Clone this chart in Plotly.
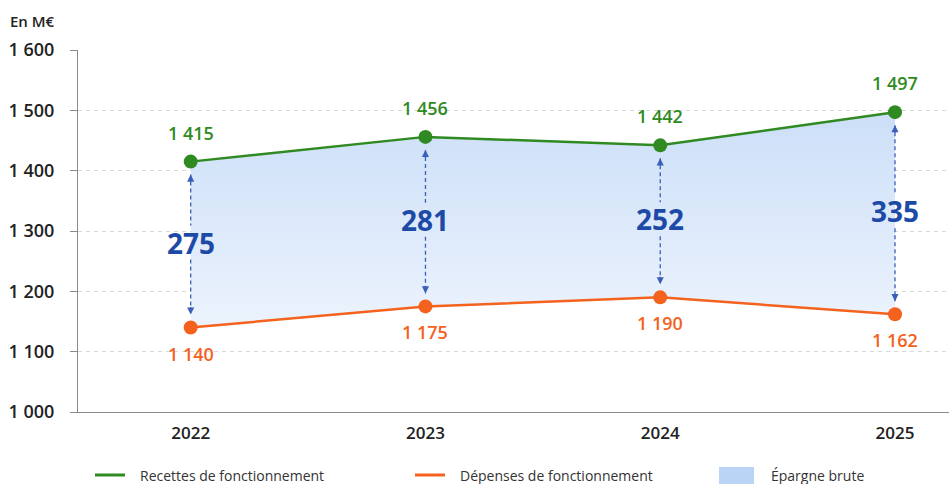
import plotly.graph_objects as go

years = ["2022", "2023", "2024", "2025"]
recettes = [1415, 1456, 1442, 1497]
depenses = [1140, 1175, 1190, 1162]
epargne = [275, 281, 252, 335]
y_ticks = [1000, 1100, 1200, 1300, 1400, 1500, 1600]
y_tick_labels = ["1 000", "1 100", "1 200", "1 300", "1 400", "1 500", "1 600"]
legend_names = ["Recettes de fonctionnement", "Dépenses de fonctionnement", "Épargne brute"]

GREEN = "#2f8a22"
ORANGE = "#f4621e"
BLUE_TXT = "#1d4aa6"
BLUE_ARR = "#3a5fb8"
LEG_BLUE = "rgb(186,212,246)"
FONT = "Open Sans"

W, H = 949, 484
ML, MR, MT, MB = 78, 0, 50, 72
PW, PH = W - ML - MR, H - MT - MB


def px_x(p):
    return (p - ML) / PW


def px_y(p):
    return (H - MB - p) / PH


def fmt(v):
    return f"{v:,}".replace(",", " ")


xs = list(range(len(years)))
fig = go.Figure()

# fill area (épargne brute)
fig.add_trace(go.Scatter(x=xs, y=depenses, mode="lines", line=dict(width=0),
                         showlegend=False, hoverinfo="skip"))
fig.add_trace(go.Scatter(x=xs, y=recettes, mode="lines", line=dict(width=0),
                         fill="tonexty", fillcolor="rgba(190,214,246,0.75)",
                         fillgradient=dict(type="vertical",
                                           colorscale=[[0, "rgb(236,243,253)"], [1, "rgb(204,223,248)"]]),
                         showlegend=False, hoverinfo="skip"))

# dashed arrows
u = 600 / PH  # data units per pixel
for i in xs:
    top = recettes[i] - 13 * u
    bot = depenses[i] + 13 * u
    mid = (recettes[i] + depenses[i]) / 2 + 2 * u
    gap = 17 * u
    for y0, y1 in [(top, mid + gap), (mid - gap, bot)]:
        fig.add_trace(go.Scatter(x=[i, i], y=[y0, y1], mode="lines",
                                 line=dict(color=BLUE_ARR, width=1.3, dash="4px,3px"),
                                 showlegend=False, hoverinfo="skip"))
    fig.add_annotation(x=i, y=top, ax=0, ay=9, text="", showarrow=True,
                       arrowhead=2, arrowsize=1.1, arrowwidth=1.3, arrowcolor=BLUE_ARR)
    fig.add_annotation(x=i, y=bot, ax=0, ay=-9, text="", showarrow=True,
                       arrowhead=2, arrowsize=1.1, arrowwidth=1.3, arrowcolor=BLUE_ARR)
    fig.add_annotation(x=i, y=mid, text=str(epargne[i]), showarrow=False,
                       font=dict(family=FONT, size=28, color=BLUE_TXT, weight=700))

fig.add_trace(go.Scatter(x=xs, y=recettes, mode="lines+markers", name=legend_names[0],
                         line=dict(color=GREEN, width=2.5), marker=dict(size=14, color=GREEN),
                         showlegend=False))
fig.add_trace(go.Scatter(x=xs, y=depenses, mode="lines+markers", name=legend_names[1],
                         line=dict(color=ORANGE, width=2.5), marker=dict(size=14, color=ORANGE),
                         showlegend=False))

for i in xs:
    fig.add_annotation(x=i, y=recettes[i], text=fmt(recettes[i]), showarrow=False, yshift=29,
                       font=dict(family=FONT, size=18, color=GREEN, weight=600))
    fig.add_annotation(x=i, y=depenses[i], text=fmt(depenses[i]), showarrow=False, yshift=-26,
                       font=dict(family=FONT, size=18, color=ORANGE, weight=600))

fig.add_annotation(xref="paper", yref="paper", x=px_x(8), y=px_y(21), xanchor="left", yanchor="middle",
                   text="En M€", showarrow=False,
                   font=dict(family=FONT, size=15, color="#222", weight=600))

# manual legend
ly = px_y(475)
fig.add_shape(type="line", xref="paper", yref="paper", x0=px_x(95), x1=px_x(125), y0=ly, y1=ly,
              line=dict(color=GREEN, width=3))
fig.add_shape(type="line", xref="paper", yref="paper", x0=px_x(415), x1=px_x(445), y0=ly, y1=ly,
              line=dict(color=ORANGE, width=3))
fig.add_shape(type="rect", xref="paper", yref="paper", x0=px_x(719), x1=px_x(754),
              y0=px_y(467), y1=px_y(486), line=dict(width=0), fillcolor=LEG_BLUE)
for xp, name in zip([138, 458, 769], legend_names):
    fig.add_annotation(xref="paper", yref="paper", x=px_x(xp), y=ly, xanchor="left", yanchor="middle",
                       text=name, showarrow=False, font=dict(family=FONT, size=14, color="#333"))

fig.update_layout(
    width=W, height=H,
    margin=dict(l=ML, r=MR, t=MT, b=MB),
    paper_bgcolor="white", plot_bgcolor="white",
    font=dict(family=FONT, color="#222"),
    xaxis=dict(range=[-0.48, 3.23], tickvals=xs, ticktext=years, showgrid=False, automargin=False,
               showline=True, linecolor="#8a8a8a", linewidth=1.2, ticks="", zeroline=False,
               tickfont=dict(family=FONT, size=17, color="#222", weight=600), ticklabelstandoff=5),
    yaxis=dict(range=[1000, 1600], tickvals=y_ticks, ticktext=y_tick_labels, automargin=False,
               showgrid=True, gridcolor="#d9d9d9", griddash="4px,4px", gridwidth=1,
               showline=True, linecolor="#8a8a8a", linewidth=1.2, zeroline=False,
               ticks="outside", ticklen=7, tickcolor="#8a8a8a",
               tickfont=dict(family=FONT, size=18, color="#222", weight=600), ticklabelstandoff=12),
    showlegend=False,
)

fig.write_html("out.html", config={"displayModeBar": False},
               post_script="document.body.style.margin='0';document.body.style.padding='0';")
